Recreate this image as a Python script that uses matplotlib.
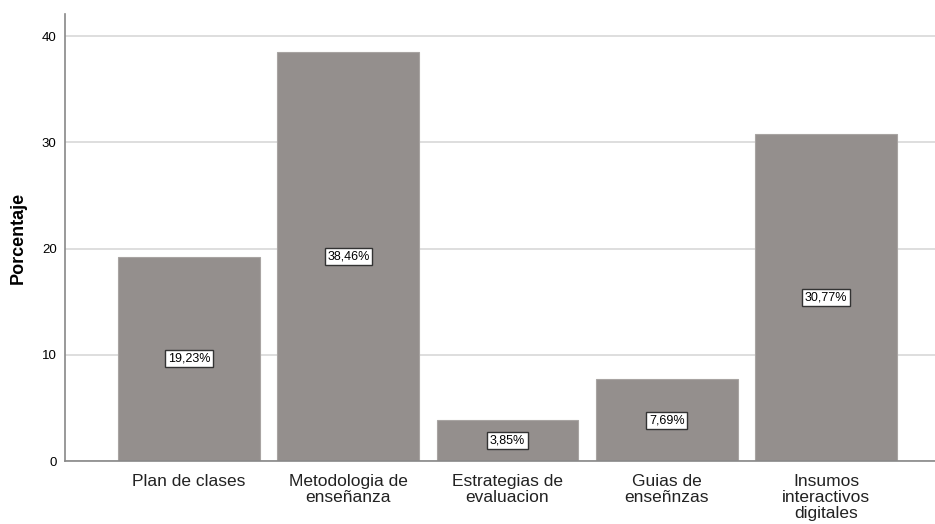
import matplotlib.pyplot as plt

plt.rcParams['font.family'] = ['Liberation Sans', 'DejaVu Sans']

categorias = ["Plan de clases", "Metodologia de\nenseñanza", "Estrategias de\nevaluacion",
              "Guias de\nenseñnzas", "Insumos\ninteractivos\ndigitales"]
porcentajes = [19.23, 38.46, 3.85, 7.69, 30.77]
etiquetas = ["19,23%", "38,46%", "3,85%", "7,69%", "30,77%"]

fig = plt.figure(figsize=(9.35, 5.24), dpi=100)
ax = fig.add_axes([0.0695, 0.1202, 0.9305, 0.853])

# barras
pos = list(range(len(categorias)))
ax.bar(pos, porcentajes, width=0.89, color='#948f8d', edgecolor='#a8a4a2', linewidth=0.8, zorder=2)

# etiquetas en el centro de cada barra
for x, v, t in zip(pos, porcentajes, etiquetas):
    ax.text(x, v / 2, t, ha='center', va='center', fontsize=9, zorder=3,
            bbox=dict(boxstyle='square,pad=0.2', facecolor='white', edgecolor='#333333', linewidth=1.0))

ax.set_xlim(-0.779, 4.684)
ax.set_ylim(0, 42.07)
ax.set_yticks([0, 10, 20, 30, 40])
ax.set_xticks(pos)
ax.set_xticklabels(categorias, fontsize=12.5, color='#222222', linespacing=1.1)
ax.tick_params(axis='y', labelsize=9.5, length=0, pad=6)
ax.tick_params(axis='x', length=0, pad=9)
ax.set_ylabel('Porcentaje', fontsize=13, fontweight='bold', labelpad=11)

# cuadricula horizontal
ax.grid(axis='y', color='#d8d8d8', linewidth=1.2, zorder=0)
ax.set_axisbelow(True)
for s in ['top', 'right']:
    ax.spines[s].set_visible(False)
for s in ['left', 'bottom']:
    ax.spines[s].set_color('#888888')
    ax.spines[s].set_linewidth(1.2)

plt.savefig('out.png', dpi=100)
